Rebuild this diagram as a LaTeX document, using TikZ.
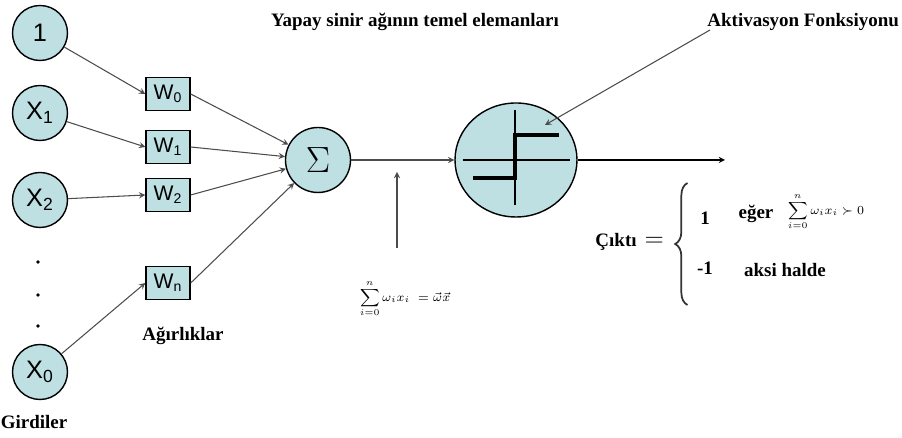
\documentclass[tikz,border=0pt]{standalone}
\usepackage{amsmath}
\usepackage{fontspec}
\setmainfont{Liberation Serif}
\newfontfamily\nodefont{Liberation Sans}
\usepackage{xcolor}
\usepackage{tikz}
\usetikzlibrary{positioning,calc,shapes.geometric,decorations.pathreplacing}
\definecolor{cellblue}{RGB}{190,224,227}
\colorlet{wire}{gray!60!black}

\begin{document}
\begin{tikzpicture}[>=stealth,align=center]
            \tikzset{
                neuron/.style={
                    draw,
                    circle,
                    fill=cellblue,
                    line width=0.8pt,
                    minimum size=1.1cm,
                    inner sep=0pt,
                    font=\nodefont\Large
                },
                weight/.style={
                    draw,
                    fill=cellblue,
                    line width=0.8pt,
                    minimum width=0.88cm,
                    minimum height=0.66cm,
                    inner sep=0pt,
                    font=\nodefont\large
                },
                link/.style={
                    ->,
                    wire,
                    line width=0.6pt
                },
                caption/.style={
                    font=\fontsize{10.8}{13}\selectfont\bfseries
                }
            }

            \useasboundingbox (0,0) rectangle (18.04,8.76);

            % Girdiler
            \node[neuron] (In1) at (0.8,8.1) {1};
            \node[neuron] (InX1) at (0.8,6.5) {X\textsubscript{1}};
            \node[neuron] (InX2) at (0.8,4.76) {X\textsubscript{2}};
            \node[neuron] (InX0) at (0.8,1.32) {X\textsubscript{0}};
            \foreach \y in {3.52,2.86,2.24}
                \fill (0.76,\y) circle (1.1pt);
            \node[caption] (In_label) at (0.68,0.32) {Girdiler};

            % Ağırlıklar
            \node[weight] (W0) at (3.36,6.88) {W\textsubscript{0}};
            \node[weight] (W1) at (3.36,5.82) {W\textsubscript{1}};
            \node[weight] (W2) at (3.36,4.86) {W\textsubscript{2}};
            \node[weight] (Wn) at (3.36,3.1) {W\textsubscript{n}};
            \node[caption] (W_label) at (3.66,2.04) {Ağırlıklar};

            \draw[link] (In1) -- (W0.west);
            \draw[link] (InX1) -- (W1.west);
            \draw[link] (InX2) -- (W2.west);
            \draw[link] (InX0) -- (Wn.west);

            % Toplama
            \node[neuron,minimum size=1.3cm,font=\huge] (Sum) at (6.36,5.56) {$\Sigma$};

            \draw[link] (W0.east) -- (Sum);
            \draw[link] (W1.east) -- (Sum);
            \draw[link] (W2.east) -- (Sum);
            \draw[link] (Wn.east) -- (Sum);

            % Aktivasyon
            \node[draw,ellipse,fill=cellblue,line width=0.8pt,
                minimum width=2.44cm,minimum height=2.28cm] (Act) at (10.32,5.56) {};
            \draw[line width=0.6pt] (9.26,5.56) -- (11.4,5.56);
            \draw[line width=0.6pt] (10.3,6.56) -- (10.3,4.66);
            \draw[line width=2pt] (9.46,5.2) -- (10.3,5.2) -- (10.3,6.06) -- (11.18,6.06);

            \draw[link] (Sum) -- (Act);
            \coordinate (Out) at (14.5,5.56);
            \draw[link,black] (Act) -- (Out);

            % Net giriş
            \node[font=\scriptsize] (Net) at (8.1,2.78)
                {$\displaystyle\sum_{i=0}^{n}\omega_i x_i\; = \vec{\omega}\vec{x}$};
            \coordinate (Net_top) at (7.94,5.32);
            \draw[link] (7.94,3.8) -- (Net_top);

            % Başlıklar
            \node[caption] (Title) at (8.3,8.32) {Yapay sinir ağının temel elemanları};
            \node[caption,anchor=east,inner sep=1pt] (Act_label) at (18.02,8.32) {Aktivasyon Fonksiyonu};
            \coordinate (Act_tip) at (10.9,6.26);
            \draw[link] (14.2,8.16) -- (Act_tip);

            % Çıktı
            \node[caption,anchor=east] (Out_label) at (13.4,3.92) {Çıktı \,{\Large$=$}};
            \draw[black!80,line width=1pt,decorate,decoration={brace,amplitude=7pt}]
                (13.75,2.66) -- (13.75,5.1);
            \node[caption] (One) at (14.1,4.4) {1};
            \node[caption] (If) at (15.12,4.48) {eğer};
            \node[font=\scriptsize] (Cond) at (16.52,4.52)
                {$\displaystyle\sum_{i=0}^{n}\omega_i x_i \succ 0$};
            \node[caption] (MinusOne) at (14.1,3.4) {-1};
            \node[caption] (Else) at (15.7,3.36) {aksi halde};
        \end{tikzpicture}
\end{document}
